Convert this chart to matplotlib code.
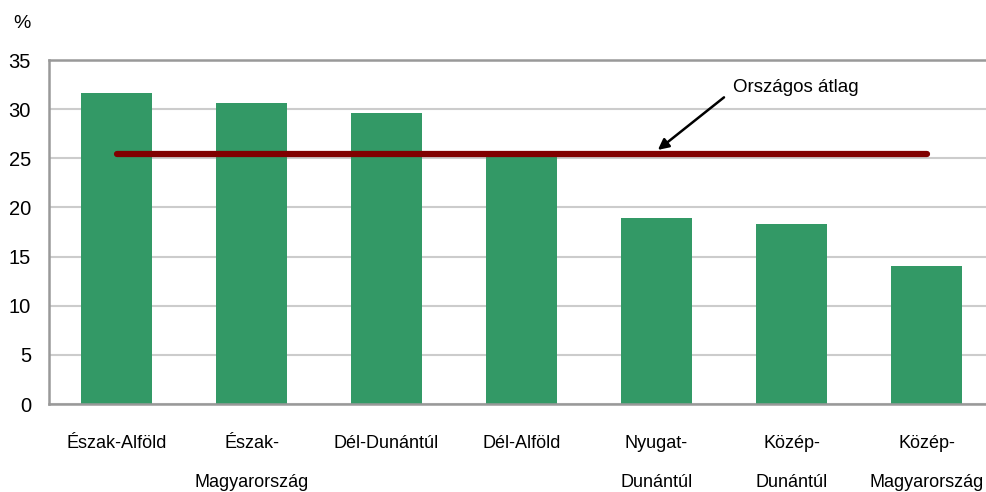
import matplotlib.pyplot as plt

plt.rcParams['font.family'] = ['Liberation Sans', 'DejaVu Sans']

regions = ['Észak-Alföld', 'Észak-\nMagyarország', 'Dél-Dunántúl', 'Dél-Alföld',
           'Nyugat-\nDunántúl', 'Közép-\nDunántúl', 'Közép-\nMagyarország']
values = [31.6, 30.6, 29.6, 25.3, 18.9, 18.3, 14.0]
avg = 25.4

fig = plt.figure(figsize=(9.86, 4.92), dpi=100)
ax = fig.add_axes([49/986, 1-404/492, 1-49/986, (404-60)/492])

x = range(len(regions))
ax.bar(x, values, width=0.52, color='#339966', zorder=2)
ax.plot([0, len(regions)-1], [avg, avg], color='#800000', lw=4.5,
        solid_capstyle='round', zorder=3)

ax.set_xlim(-0.5, -0.5 + 937/135)
ax.set_ylim(0, 35)
ax.set_yticks(range(0, 36, 5))
ax.set_xticks(list(x))
ax.set_xticklabels(regions, fontsize=13, linespacing=2.75, va='top')
ax.tick_params(axis='y', length=0, pad=13, labelsize=14.5)
ax.tick_params(axis='x', length=0, pad=22)

ax.grid(axis='y', color='#cccccc', lw=1.5, zorder=0)
for s in ['left', 'bottom', 'top']:
    ax.spines[s].set_color('#999999')
    ax.spines[s].set_linewidth(1.8)
ax.spines['right'].set_visible(False)

# label of the national average with an arrow pointing to the line
ax.text(4.57, 32.2, 'Országos átlag', fontsize=13.5, ha='left', va='center')
ax.annotate('', xy=(4.01, 25.85), xytext=(4.5, 31.2),
            arrowprops=dict(arrowstyle='-|>', color='black', lw=1.8,
                            mutation_scale=16, shrinkA=0, shrinkB=0))

fig.text(22/986, 1-23/492, '%', fontsize=14, ha='center', va='center')

fig.savefig('out.png', dpi=100)
